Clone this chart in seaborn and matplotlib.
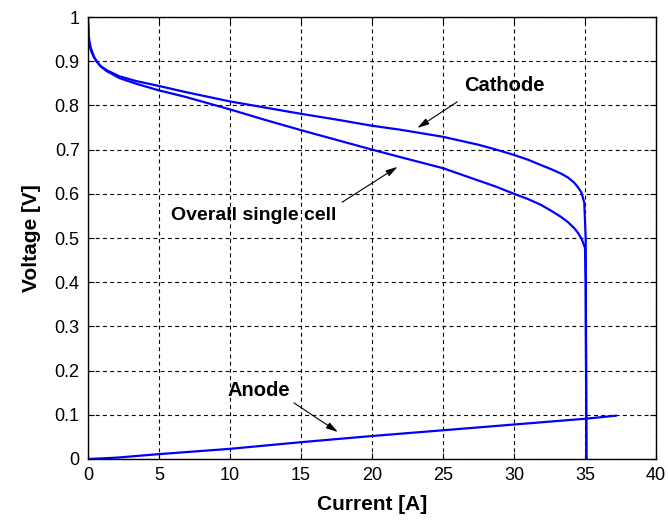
import matplotlib
matplotlib.use("Agg")
import matplotlib.pyplot as plt
import seaborn as sns
import pandas as pd

# ---- data ----
cathode_current = [0, 0.05, 0.1, 0.2, 0.4, 0.6, 0.9, 1.3, 2.2, 3.4, 5, 6.9, 10, 12.5, 15,
                   17.5, 20, 22, 25, 27.5, 28.75, 30, 31, 31.9, 32.6, 33.3, 33.8, 34.25,
                   34.5, 34.75, 34.95, 35.05, 35.1]
cathode_voltage = [1.00, 0.96, 0.945, 0.93, 0.912, 0.90, 0.889, 0.88, 0.866, 0.855, 0.844,
                   0.830, 0.809, 0.795, 0.781, 0.768, 0.754, 0.745, 0.729, 0.711, 0.700,
                   0.688, 0.677, 0.665, 0.656, 0.646, 0.637, 0.625, 0.615, 0.603, 0.580,
                   0.50, 0.0]

overall_current = [0, 0.05, 0.1, 0.2, 0.4, 0.6, 0.9, 1.3, 2.2, 3.4, 5, 6.9, 10, 12.5, 15,
                   17.5, 20, 22, 25, 27.5, 28.75, 30, 31, 31.9, 32.6, 33.3, 33.8, 34.25,
                   34.5, 34.75, 35.0, 35.05, 35.1]
overall_voltage = [0.99, 0.95, 0.938, 0.925, 0.91, 0.90, 0.888, 0.878, 0.862, 0.849, 0.834,
                   0.819, 0.791, 0.767, 0.744, 0.722, 0.700, 0.683, 0.658, 0.630, 0.616,
                   0.600, 0.588, 0.575, 0.562, 0.548, 0.536, 0.522, 0.512, 0.499, 0.478,
                   0.40, 0.0]

anode_current = [0, 2, 5, 10, 15, 20, 25, 30, 35, 37.2]
anode_voltage = [0.0, 0.003, 0.011, 0.023, 0.038, 0.052, 0.065, 0.078, 0.091, 0.098]

x_ticks = [0, 5, 10, 15, 20, 25, 30, 35, 40]
y_ticks = [0, 0.1, 0.2, 0.3, 0.4, 0.5, 0.6, 0.7, 0.8, 0.9, 1]
y_tick_labels = ["0", "0.1", "0.2", "0.3", "0.4", "0.5", "0.6", "0.7", "0.8", "0.9", "1"]

curves = pd.concat([
    pd.DataFrame({"Current": cathode_current, "Voltage": cathode_voltage, "curve": "Cathode"}),
    pd.DataFrame({"Current": overall_current, "Voltage": overall_voltage, "curve": "Overall single cell"}),
    pd.DataFrame({"Current": anode_current, "Voltage": anode_voltage, "curve": "Anode"}),
], ignore_index=True)

# ---- style ----
sns.set_style("white")
plt.rcParams["font.family"] = ["Liberation Sans", "DejaVu Sans"]
plt.rcParams["text.color"] = "black"
plt.rcParams["axes.labelcolor"] = "black"
plt.rcParams["xtick.color"] = "black"
plt.rcParams["ytick.color"] = "black"

fig = plt.figure(figsize=(6.68, 5.22), dpi=100)
ax = fig.add_axes([0.1317, 0.1207, 0.8503, 0.8467])

for name in ["Cathode", "Overall single cell", "Anode"]:
    sub = curves[curves["curve"] == name]
    sns.lineplot(data=sub, x="Current", y="Voltage", ax=ax, sort=False,
                 estimator=None, color="#0000FF", linewidth=1.6, legend=False)

ax.set_xlim(0, 40)
ax.set_ylim(0, 1)
ax.set_xticks(x_ticks)
ax.set_xticklabels([str(t) for t in x_ticks])
ax.set_yticks(y_ticks)
ax.set_yticklabels(y_tick_labels)

ax.grid(True, color="black", linestyle=(0, (3.5, 3)), linewidth=0.8)
ax.set_axisbelow(True)
for s in ax.spines.values():
    s.set_visible(True)
    s.set_color("black")
    s.set_linewidth(1.0)

ax.tick_params(direction="in", length=4, width=0.8, colors="black",
               labelcolor="black", labelsize=13, top=True, right=True,
               bottom=True, left=True, pad=6)

ax.set_xlabel("Current [A]", fontsize=15, fontweight="bold", labelpad=8, color="black")
ax.set_ylabel("Voltage [V]", fontsize=15, fontweight="bold", labelpad=10, color="black")

# ---- annotations ----
arrow = dict(arrowstyle="-|>,head_length=0.7,head_width=0.2", color="black",
             lw=0.8, shrinkA=0, shrinkB=0)
ax.text(29.3, 0.844, "Cathode", fontsize=14.5, fontweight="bold",
        ha="center", va="center", color="black")
ax.annotate("", xy=(23.2, 0.749), xytext=(26.0, 0.808), arrowprops=arrow)

ax.text(11.7, 0.55, "Overall single cell", fontsize=14, fontweight="bold",
        ha="center", va="center", color="black")
ax.annotate("", xy=(21.8, 0.661), xytext=(17.9, 0.581), arrowprops=arrow)

ax.text(12.05, 0.154, "Anode", fontsize=14.5, fontweight="bold",
        ha="center", va="center", color="black")
ax.annotate("", xy=(17.6, 0.061), xytext=(14.5, 0.127), arrowprops=arrow)

fig.savefig("out.png", dpi=100)
